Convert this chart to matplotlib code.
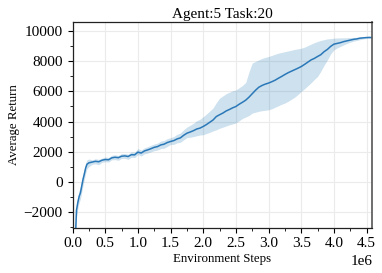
import matplotlib
matplotlib.use("Agg")
import matplotlib.pyplot as plt
import numpy as np
from matplotlib.ticker import MultipleLocator

# environment steps (x1e6) and return curves
steps = [0.03, 0.05, 0.06, 0.08, 0.10, 0.12, 0.14, 0.16, 0.18, 0.20, 0.22, 0.25,
         0.30, 0.35, 0.40, 0.45, 0.50, 0.55, 0.60, 0.65, 0.70, 0.75, 0.80, 0.85,
         0.90, 0.95, 1.00, 1.05, 1.10, 1.15, 1.20, 1.25, 1.30, 1.35, 1.40, 1.45,
         1.50, 1.55, 1.60, 1.65, 1.70, 1.75, 1.80, 1.85, 1.90, 1.95, 2.00, 2.05,
         2.10, 2.15, 2.20, 2.25, 2.30, 2.35, 2.40, 2.45, 2.50, 2.55, 2.60, 2.65,
         2.70, 2.75, 2.80, 2.85, 2.90, 2.95, 3.00, 3.05, 3.10, 3.15, 3.20, 3.25,
         3.30, 3.35, 3.40, 3.45, 3.50, 3.55, 3.60, 3.65, 3.70, 3.75, 3.80, 3.85,
         3.90, 3.95, 4.00, 4.05, 4.10, 4.15, 4.20, 4.25, 4.30, 4.35, 4.40, 4.45,
         4.50, 4.55, 4.60]

mean_return = [-5000, -3000, -1900, -1400, -1000, -750, -300, 150, 500, 900, 1150, 1250,
               1300, 1350, 1320, 1420, 1470, 1450, 1580, 1620, 1590, 1690, 1710, 1670,
               1790, 1780, 1960, 1900, 2040, 2110, 2190, 2280, 2330, 2440, 2490, 2600,
               2670, 2730, 2840, 2910, 3080, 3220, 3300, 3390, 3500, 3560, 3670, 3800,
               3950, 4100, 4330, 4450, 4560, 4700, 4800, 4910, 5000, 5150, 5280, 5420,
               5620, 5850, 6080, 6280, 6400, 6490, 6560, 6650, 6750, 6880, 7000, 7130,
               7250, 7350, 7450, 7550, 7660, 7800, 7950, 8100, 8200, 8330, 8450, 8650,
               8800, 9000, 9150, 9200, 9250, 9320, 9370, 9420, 9470, 9500, 9550, 9570,
               9590, 9600, 9580]

upper_return = [-4600, -2600, -1400, -1000, -600, -350, 100, 550, 850, 1250, 1450, 1500,
                1450, 1520, 1480, 1560, 1640, 1600, 1750, 1780, 1740, 1860, 1870, 1820,
                1980, 1960, 2200, 2100, 2250, 2320, 2420, 2500, 2560, 2700, 2740, 2860,
                2920, 3000, 3150, 3230, 3450, 3630, 3750, 3880, 4050, 4150, 4320, 4500,
                4700, 4900, 5250, 5550, 5700, 5850, 5950, 6050, 6100, 6250, 6400, 6600,
                7300, 7890, 8000, 8100, 8200, 8270, 8330, 8400, 8480, 8550, 8600, 8650,
                8700, 8750, 8800, 8840, 8880, 8950, 9050, 9150, 9250, 9330, 9400, 9450,
                9500, 9520, 9550, 9560, 9570, 9570, 9580, 9590, 9600, 9610, 9620, 9630,
                9650, 9660, 9640]

lower_return = [-5400, -3400, -2400, -1800, -1400, -1150, -700, -250, 150, 550, 850, 1000,
                1150, 1180, 1120, 1280, 1320, 1300, 1450, 1460, 1420, 1540, 1550, 1480,
                1620, 1600, 1800, 1700, 1850, 1900, 1980, 2060, 2100, 2200, 2220, 2340,
                2470, 2480, 2580, 2620, 2780, 2930, 2950, 3000, 3050, 3100, 3120, 3200,
                3280, 3370, 3450, 3550, 3620, 3700, 3780, 3840, 3900, 4050, 4200, 4300,
                4400, 4560, 4620, 4680, 4720, 4750, 4780, 4850, 4950, 5050, 5150, 5230,
                5350, 5480, 5620, 5800, 6000, 6180, 6380, 6580, 6800, 7000, 7350, 7750,
                8100, 8500, 8770, 8900, 9000, 9100, 9200, 9280, 9350, 9400, 9450, 9500,
                9530, 9540, 9520]

plt.rcParams['font.family'] = ['Liberation Serif', 'DejaVu Serif']
plt.rcParams['mathtext.fontset'] = 'stix'

fig = plt.figure(figsize=(3.82, 2.73), dpi=100)
ax = fig.add_axes([0.190, 0.166, 0.785, 0.752])

x = np.array(steps) * 1e6
ax.fill_between(x, lower_return, upper_return, color='#1f77b4', alpha=0.22, linewidth=0)
ax.plot(x, mean_return, color='#2a78b8', linewidth=1.1)

ax.set_xlim(0, 4.59e6)
ax.set_ylim(-3070, 10600)

ax.xaxis.set_major_locator(MultipleLocator(0.5e6))
ax.xaxis.set_minor_locator(MultipleLocator(0.25e6))
ax.yaxis.set_major_locator(MultipleLocator(2000))
ax.yaxis.set_minor_locator(MultipleLocator(1000))

ax.grid(True, which='major', color='#ebebeb', linewidth=0.8)
ax.set_axisbelow(True)

ax.tick_params(which='major', direction='out', length=3.5, width=0.8, labelsize=11,
               top=False, right=False)
ax.tick_params(which='minor', direction='out', length=2, width=0.6,
               top=False, right=False)
ax.xaxis.get_offset_text().set_fontsize(11)

for side in ['left', 'bottom', 'top']:
    ax.spines[side].set_color('#222222')
    ax.spines[side].set_linewidth(0.9)
ax.spines['right'].set_color('#555555')
ax.spines['right'].set_linewidth(1.2)

ax.set_title('Agent:5 Task:20', fontsize=11, pad=3)
ax.set_xlabel('Environment Steps', fontsize=9.3, labelpad=2)
ax.set_ylabel('Average Return', fontsize=9.3, labelpad=3)

fig.savefig('out.png', dpi=100)
